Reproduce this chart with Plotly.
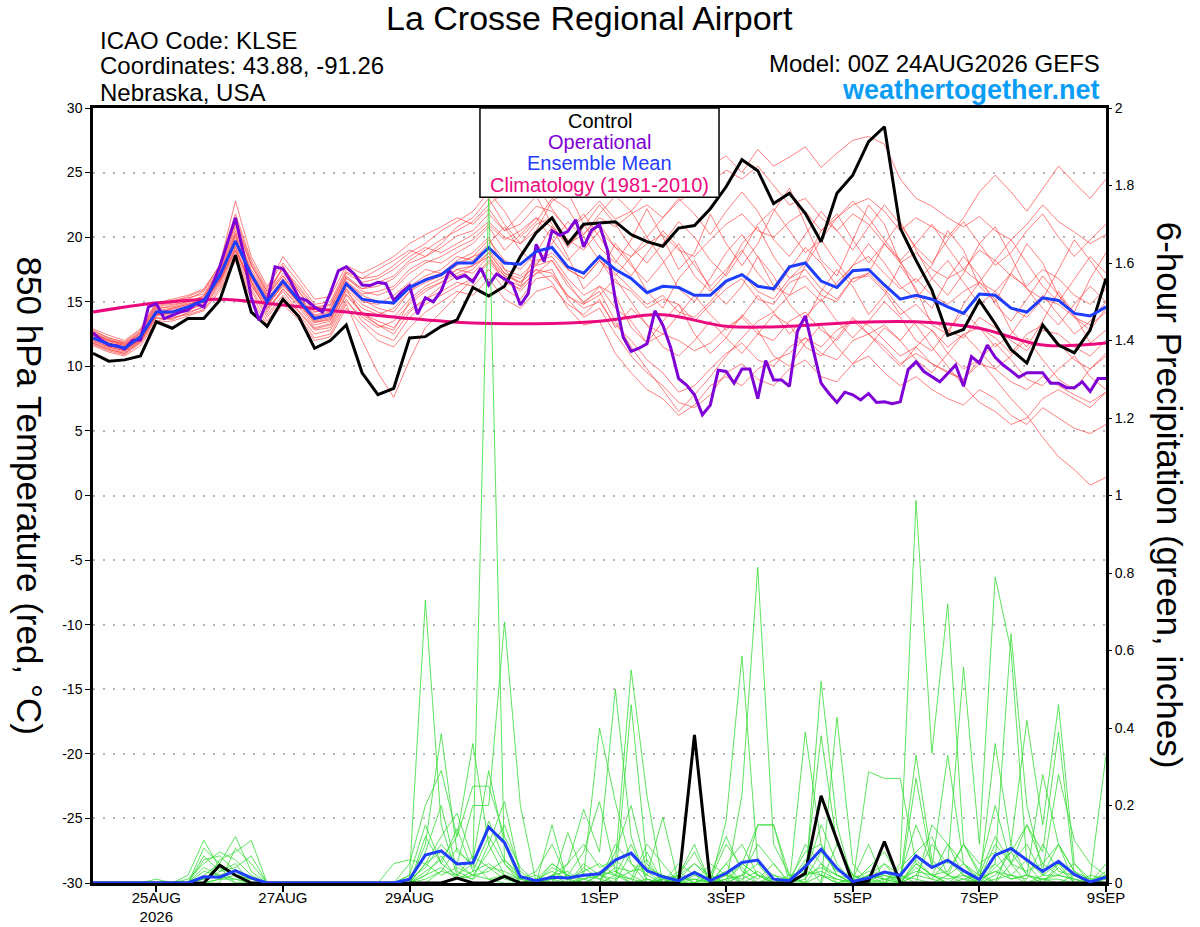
import pandas as pd
import plotly.graph_objects as go

# GEFS run 00Z 24AUG2026, 6-hourly steps (ensemble / control / mean), 3-hourly operational
times_6h = pd.date_range("2026-08-24 00:00", periods=65, freq="6h")
times_3h = pd.date_range("2026-08-24 00:00", periods=129, freq="3h")
clim_days = pd.date_range("2026-08-24", periods=17, freq="D")

tick_dates = ["2026-08-25", "2026-08-27", "2026-08-29", "2026-09-01",
              "2026-09-03", "2026-09-05", "2026-09-07", "2026-09-09"]
tick_labels = ["25AUG<br>2026", "27AUG", "29AUG", "1SEP", "3SEP", "5SEP", "7SEP", "9SEP"]

temp_ticks = [30, 25, 20, 15, 10, 5, 0, -5, -10, -15, -20, -25, -30]
temp_tick_labels = ["30", "25", "20", "15", "10", "5", "0", "-5", "-10", "-15", "-20", "-25", "-30"]
precip_ticks = [0, 0.2, 0.4, 0.6, 0.8, 1.0, 1.2, 1.4, 1.6, 1.8, 2.0]
precip_tick_labels = ["0", "0.2", "0.4", "0.6", "0.8", "1", "1.2", "1.4", "1.6", "1.8", "2"]

# 850 hPa temperature (C)
control_temp = [11.0, 10.4, 10.5, 10.8, 13.45, 12.95, 13.7, 13.7, 15.1, 18.6,
                14.2, 13.1, 15.2, 13.85, 11.4, 12.0, 13.2, 9.5, 7.8, 8.3,
                12.2, 12.3, 13.1, 13.6, 16.1, 15.45, 16.2, 18.5, 20.35, 21.5,
                19.5, 21.0, 21.1, 21.2, 20.2, 19.65, 19.3, 20.7, 20.9, 22.2,
                23.9, 26.0, 25.15, 22.6, 23.4, 21.85, 19.65, 23.4, 24.8, 27.4,
                28.55, 20.7, 18.2, 15.9, 12.4, 12.85, 15.1, 13.3, 11.3, 10.25,
                13.2, 11.65, 11.05, 12.8, 16.8]

mean_temp = [12.2, 11.7, 11.4, 12.3, 14.2, 14.2, 14.6, 15.1, 17.0, 19.7,
             17.1, 15.0, 16.6, 15.1, 13.7, 14.0, 16.4, 15.2, 15.0, 14.9,
             16.1, 16.7, 17.1, 18.0, 18.0, 19.2, 18.0, 17.9, 18.9, 19.2,
             17.7, 17.2, 18.5, 17.5, 16.8, 15.7, 16.2, 16.1, 15.5, 15.5,
             16.6, 17.1, 16.2, 16.0, 17.7, 18.0, 16.6, 16.1, 17.4, 17.5,
             16.3, 15.2, 15.5, 15.2, 14.6, 14.1, 15.6, 15.5, 14.5, 14.2,
             15.3, 15.1, 14.1, 13.9, 14.6]

oper_temp = [12.6, 12.05, 11.65, 11.6, 11.35, 12.0, 12.05, 14.6, 14.85, 13.7,
             13.95, 14.2, 14.35, 14.85, 14.6, 16.1, 17.7, 19.6, 21.5, 18.8,
             15.3, 13.55, 15.0, 17.7, 17.55, 16.55, 15.3, 15.1, 14.6, 14.2,
             15.7, 17.4, 17.7, 17.15, 16.3, 16.25, 16.5, 16.4, 15.1, 15.75,
             16.25, 14.05, 15.3, 15.0, 15.85, 17.4, 16.8, 17.05, 16.55, 17.6,
             16.3, 17.15, 16.8, 16.4, 14.75, 15.65, 19.45, 18.1, 20.5, 20.15,
             20.45, 21.35, 19.25, 20.55, 20.95, 19.0, 15.15, 12.25, 11.15, 11.4,
             11.75, 14.3, 13.2, 11.45, 9.05, 8.55, 7.8, 6.25, 7.0, 9.7,
             9.6, 8.7, 9.8, 9.8, 7.5, 10.45, 8.95, 8.95, 8.45, 12.7,
             13.9, 11.25, 8.7, 7.9, 7.2, 8.0, 7.8, 7.4, 7.9, 7.2,
             7.25, 7.1, 7.25, 9.75, 10.35, 9.6, 9.2, 8.8, 9.45, 10.1,
             8.45, 10.75, 10.25, 11.65, 10.7, 10.1, 9.65, 9.15, 9.5, 9.5,
             9.5, 8.7, 8.7, 8.35, 8.35, 8.8, 8.05, 9.05, 9.05]

clim_temp = [14.2, 14.9, 15.2, 14.75, 14.2, 13.7, 13.35, 13.3, 13.5, 14.0,
             13.1, 13.1, 13.4, 13.45, 12.95, 11.65, 11.8]

temp_members = [
    [12.5, 12.0, 11.8, 12.6, 14.6, 14.8, 15.0, 15.4, 17.5, 21.0, 17.8, 15.6, 17.2, 15.8, 14.2, 14.5, 17.0,
     16.0, 16.2, 16.8, 18.0, 18.5, 19.2, 20.1, 20.5, 21.8, 20.5, 21.0, 22.4, 22.0, 20.6, 21.5, 22.8,
     21.4, 22.0, 23.5, 24.8, 23.2, 24.0, 25.5, 26.3, 25.0, 26.8, 25.5, 26.2, 27.0, 25.4, 26.5, 27.5,
     27.8, 27.2, 24.5, 23.0, 22.4, 21.5, 20.8, 21.6, 20.5, 19.8, 21.0, 22.5, 21.2, 20.4, 19.5, 20.2],
    [11.8, 11.3, 11.0, 11.9, 13.8, 13.6, 14.2, 14.6, 16.4, 19.0, 16.2, 14.5, 15.8, 14.3, 12.9, 13.2, 15.5,
     14.1, 13.5, 13.0, 14.4, 15.2, 15.8, 16.5, 16.2, 17.5, 16.0, 15.2, 16.8, 17.0, 15.4, 14.8, 16.2,
     14.5, 13.5, 11.8, 12.5, 12.0, 11.2, 11.8, 13.0, 13.8, 12.5, 12.0, 13.5, 14.2, 12.8, 12.0, 13.6,
     13.2, 12.0, 10.8, 11.5, 10.2, 9.6, 9.0, 10.5, 9.0, 7.5, 6.2, 4.5, 3.0, 2.0, 0.8, 1.4],
    [12.0, 11.5, 11.2, 12.0, 14.0, 14.5, 14.8, 15.2, 16.8, 20.2, 16.5, 14.2, 16.0, 14.8, 13.2, 13.5, 16.0,
     14.0, 13.2, 12.8, 15.0, 16.0, 16.5, 17.5, 17.2, 18.5, 16.5, 16.0, 17.5, 16.5, 14.5, 13.2, 13.5,
     11.0, 9.5, 8.2, 7.5, 6.2, 7.0, 8.5, 9.2, 8.5, 9.8, 10.5, 11.0, 12.2, 11.5, 12.8, 13.5,
     12.5, 13.2, 12.0, 13.5, 12.8, 11.5, 12.5, 13.0, 12.2, 11.0, 12.5, 13.2, 11.8, 10.5, 9.8, 11.0],
    [12.8, 12.2, 11.9, 12.8, 14.9, 15.2, 15.5, 16.0, 17.8, 22.8, 18.5, 16.2, 18.0, 16.5, 14.8, 15.0, 17.5,
     16.8, 17.5, 18.2, 19.0, 18.5, 19.5, 20.8, 21.5, 23.0, 21.0, 19.5, 20.5, 22.8, 23.5, 21.0, 19.2,
     18.0, 19.8, 22.2, 20.0, 17.5, 18.8, 21.8, 19.5, 17.8, 19.5, 22.0, 23.8, 21.0, 18.2, 17.0, 19.8,
     22.5, 21.0, 18.0, 16.5, 17.8, 20.5, 19.0, 16.2, 15.0, 17.2, 19.5, 18.0, 15.5, 14.2, 16.8, 18.8],
    [12.3, 11.8, 11.5, 12.4, 14.3, 14.0, 14.5, 15.0, 16.8, 19.5, 16.8, 14.8, 16.2, 15.0, 13.5, 13.8, 16.2,
     15.0, 14.8, 15.5, 16.5, 17.5, 17.2, 18.2, 18.8, 20.0, 17.5, 16.2, 18.8, 20.8, 18.5, 16.0, 17.2,
     19.5, 18.0, 15.8, 14.5, 16.8, 18.2, 16.0, 14.8, 16.2, 18.5, 17.0, 14.8, 13.5, 15.8, 17.5, 16.2,
     14.0, 15.5, 17.8, 16.0, 13.2, 12.5, 14.8, 16.5, 15.2, 12.8, 11.5, 13.5, 15.8, 14.0, 11.8, 12.8],
    [11.7, 11.2, 10.9, 11.8, 13.5, 13.8, 14.0, 14.4, 16.0, 18.5, 15.5, 13.5, 15.0, 13.8, 12.2, 12.5, 14.8,
     12.0, 9.5, 7.6, 10.5, 13.0, 14.2, 15.5, 16.8, 18.2, 17.0, 16.5, 18.0, 18.8, 17.5, 16.8, 18.2,
     16.5, 15.8, 14.5, 15.2, 14.8, 13.5, 14.8, 16.0, 16.8, 15.2, 14.8, 16.5, 17.0, 15.5, 15.0, 16.8,
     17.0, 15.8, 14.0, 14.8, 13.5, 12.8, 12.2, 13.8, 13.0, 12.0, 11.2, 12.8, 12.5, 11.5, 10.8, 12.0],
    [12.6, 12.1, 11.7, 12.5, 14.5, 14.6, 14.9, 15.5, 17.2, 20.5, 17.5, 15.5, 17.0, 15.5, 14.0, 14.2, 16.8,
     16.0, 16.5, 17.0, 18.2, 19.0, 19.8, 20.5, 21.2, 22.5, 23.5, 24.8, 24.0, 22.2, 20.5, 21.8, 20.0,
     18.2, 17.0, 18.8, 20.5, 19.2, 17.0, 15.8, 17.2, 19.5, 20.8, 18.5, 16.8, 18.0, 20.5, 21.8, 19.8,
     18.0, 19.5, 21.2, 19.0, 16.8, 15.5, 17.2, 19.5, 20.8, 18.5, 16.0, 15.2, 17.5, 19.8, 18.2, 16.5],
    [11.9, 11.4, 11.1, 12.0, 13.9, 14.2, 14.4, 14.8, 16.5, 19.2, 16.0, 14.0, 15.5, 14.2, 12.8, 13.0, 15.2,
     13.5, 12.5, 12.0, 13.8, 14.8, 15.5, 16.2, 16.8, 18.0, 16.8, 16.2, 17.2, 17.5, 15.2, 13.8, 14.5,
     12.5, 10.8, 9.5, 8.5, 7.2, 6.8, 7.8, 9.5, 10.2, 9.0, 8.5, 9.8, 10.5, 9.2, 8.8, 10.2,
     10.8, 9.5, 8.5, 9.2, 8.2, 7.5, 7.0, 8.2, 7.5, 6.2, 5.5, 6.8, 6.0, 5.2, 4.8, 5.5],
    [12.4, 11.9, 11.6, 12.2, 14.2, 14.4, 14.7, 15.2, 17.0, 20.0, 17.0, 15.2, 16.8, 15.3, 13.8, 14.0, 16.5,
     15.5, 15.0, 14.8, 16.2, 17.0, 17.5, 18.5, 18.2, 19.5, 20.8, 19.0, 17.8, 19.5, 21.2, 20.0, 18.2,
     17.0, 18.5, 20.0, 18.2, 16.0, 15.0, 16.8, 18.8, 20.2, 18.5, 16.2, 15.5, 17.8, 19.8, 18.0, 16.5,
     17.2, 19.5, 18.2, 15.8, 14.5, 16.8, 18.5, 17.0, 14.8, 13.5, 15.2, 17.0, 15.5, 13.8, 12.8, 14.5],
    [12.1, 11.6, 11.3, 12.1, 14.1, 13.9, 14.3, 14.9, 16.6, 19.0, 16.5, 14.6, 16.4, 14.9, 13.4, 13.6, 15.8,
     14.5, 14.0, 14.5, 15.8, 16.5, 17.0, 17.8, 18.5, 19.0, 17.5, 17.0, 18.2, 18.5, 16.8, 15.5, 16.2,
     15.5, 13.0, 11.8, 13.5, 14.8, 12.5, 11.0, 12.2, 14.0, 12.8, 10.8, 10.0, 11.8, 13.2, 11.5, 10.2,
     11.5, 13.0, 12.0, 10.5, 9.5, 11.0, 12.5, 11.2, 9.8, 10.8, 12.2, 10.5, 9.0, 8.2, 9.8, 10.8],
    [12.7, 12.2, 11.8, 12.7, 14.7, 14.9, 15.2, 15.8, 17.6, 21.5, 18.0, 15.8, 17.5, 16.0, 14.5, 14.7, 17.2,
     16.5, 16.8, 17.5, 18.5, 19.2, 18.8, 19.5, 20.2, 21.2, 20.0, 19.5, 21.0, 21.5, 19.8, 19.0, 20.5,
     19.2, 18.5, 19.5, 20.2, 19.0, 18.5, 19.8, 21.0, 21.8, 20.5, 20.0, 21.2, 22.0, 20.5, 21.5, 22.5,
     23.0, 22.0, 20.5, 21.5, 20.8, 20.0, 21.5, 23.5, 24.8, 23.5, 22.0, 23.8, 25.5, 24.2, 23.0, 24.5],
    [11.6, 11.1, 10.8, 11.6, 13.4, 13.5, 13.9, 14.3, 15.8, 18.2, 15.2, 13.2, 14.8, 13.6, 12.0, 12.3, 14.5,
     13.2, 12.0, 11.5, 13.0, 14.2, 15.0, 15.8, 15.5, 16.8, 15.2, 14.5, 15.8, 16.2, 14.8, 14.0, 15.2,
     13.0, 14.5, 13.2, 11.5, 10.8, 12.0, 13.5, 12.2, 11.0, 12.5, 14.0, 13.2, 11.5, 10.8, 12.2, 13.8,
     12.5, 11.2, 10.0, 11.5, 12.8, 11.0, 9.8, 10.5, 11.8, 10.5, 9.0, 8.5, 9.8, 10.8, 9.2, 8.2],
    [12.5, 12.0, 11.7, 12.4, 14.4, 14.7, 15.0, 15.3, 17.3, 20.8, 17.2, 15.3, 17.8, 15.8, 14.2, 14.4, 16.9,
     15.8, 15.5, 16.0, 17.2, 18.0, 18.5, 19.2, 19.8, 21.0, 19.8, 20.5, 21.5, 20.8, 19.5, 20.2, 21.5,
     20.8, 21.8, 22.5, 21.5, 22.8, 23.5, 24.2, 25.2, 24.5, 25.5, 24.0, 22.5, 23.0, 21.5, 20.5, 21.8,
     21.0, 19.5, 18.0, 18.8, 17.5, 16.8, 17.5, 19.0, 18.2, 17.0, 16.2, 17.5, 16.8, 15.5, 14.8, 16.0],
    [12.2, 11.7, 11.4, 12.2, 14.2, 14.3, 14.6, 15.1, 16.9, 19.8, 16.8, 15.0, 16.5, 15.1, 13.6, 13.9, 16.3,
     15.2, 14.5, 14.2, 15.8, 16.8, 17.2, 18.0, 18.5, 19.8, 18.2, 17.5, 18.8, 19.2, 17.5, 16.8, 18.2,
     17.2, 16.0, 14.8, 15.5, 14.2, 13.8, 15.0, 16.5, 17.2, 15.8, 15.2, 16.8, 17.5, 16.0, 15.2, 16.8,
     17.2, 16.0, 14.5, 13.2, 11.5, 10.0, 8.5, 7.2, 6.5, 5.5, 6.0, 7.5, 8.2, 7.5, 6.8, 8.0],
    [12.9, 12.4, 12.0, 12.9, 15.0, 15.0, 15.4, 15.9, 17.8, 21.8, 18.2, 16.0, 18.5, 16.8, 15.2, 15.4, 17.8,
     17.2, 17.8, 18.5, 19.5, 20.2, 20.8, 21.5, 21.0, 22.2, 20.5, 21.8, 23.2, 21.0, 19.2, 20.8, 22.5,
     21.0, 19.2, 18.0, 19.5, 21.2, 20.0, 18.2, 17.0, 18.8, 21.0, 22.2, 20.5, 18.8, 19.8, 21.5, 22.8,
     21.5, 19.8, 18.2, 19.5, 21.0, 19.2, 17.5, 16.5, 18.2, 19.8, 18.0, 16.2, 15.0, 16.8, 18.5, 17.2],
    [12.0, 11.5, 11.2, 12.1, 14.0, 14.1, 14.5, 15.0, 16.7, 19.3, 16.3, 14.4, 16.0, 14.6, 13.0, 13.3, 15.6,
     14.2, 13.2, 12.5, 14.2, 15.2, 16.2, 17.0, 17.5, 18.8, 17.2, 16.8, 17.8, 18.2, 16.2, 15.0, 15.8,
     13.5, 11.5, 9.8, 8.2, 6.5, 7.8, 9.2, 10.8, 12.2, 13.5, 14.2, 15.5, 16.2, 15.0, 16.5, 17.8,
     18.5, 17.2, 16.0, 16.8, 15.5, 14.8, 15.8, 16.5, 15.8, 14.5, 13.8, 15.2, 14.8, 13.8, 13.2, 14.2],
    [12.6, 12.0, 11.6, 12.6, 14.8, 15.1, 15.3, 15.6, 17.5, 21.2, 17.8, 15.8, 17.6, 16.2, 14.6, 14.8, 17.3,
     16.8, 17.0, 17.8, 18.8, 19.5, 20.5, 21.2, 22.0, 23.5, 22.0, 20.0, 21.2, 23.0, 22.2, 20.2, 21.8,
     23.2, 22.0, 20.0, 21.5, 23.0, 21.8, 20.2, 22.0, 23.5, 22.0, 19.8, 18.5, 20.2, 22.0, 20.5, 19.0,
     20.8, 22.5, 21.0, 19.2, 18.0, 19.8, 21.2, 19.5, 17.8, 18.8, 20.5, 21.8, 20.0, 18.5, 19.8, 21.0],
    [11.8, 11.3, 11.0, 11.9, 13.7, 13.7, 14.1, 14.6, 16.2, 18.8, 15.8, 13.8, 15.3, 14.0, 12.5, 12.8, 15.0,
     13.8, 13.0, 13.5, 14.8, 15.8, 16.5, 17.2, 17.8, 18.5, 17.0, 15.8, 17.2, 18.2, 16.5, 14.8, 15.5,
     16.8, 15.0, 13.2, 12.5, 14.0, 15.5, 14.0, 12.8, 13.8, 15.5, 14.2, 12.5, 13.8, 15.2, 13.5, 12.2,
     13.5, 15.0, 13.8, 12.0, 11.2, 12.8, 14.2, 13.0, 11.5, 12.5, 14.2, 15.5, 14.0, 12.5, 13.5, 15.0],
    [12.4, 11.8, 11.5, 12.3, 14.3, 14.5, 14.8, 15.2, 17.1, 20.3, 17.3, 15.4, 17.0, 15.4, 13.9, 14.1, 16.6,
     15.6, 15.8, 16.2, 17.5, 18.2, 18.0, 18.8, 19.5, 20.8, 19.0, 20.2, 21.5, 19.8, 18.2, 19.5, 21.0,
     19.2, 17.8, 16.5, 18.0, 19.5, 17.8, 16.2, 17.5, 19.0, 17.2, 15.8, 17.5, 19.2, 18.0, 16.2, 17.8,
     19.5, 18.0, 16.2, 15.2, 16.8, 18.2, 16.5, 14.8, 15.8, 17.2, 16.0, 14.5, 13.2, 14.8, 16.2, 15.0],
    [12.2, 11.6, 11.3, 12.1, 14.0, 14.2, 14.6, 15.0, 16.6, 19.6, 16.6, 14.7, 16.3, 14.9, 13.4, 13.7, 16.0,
     14.8, 14.2, 13.8, 15.2, 16.2, 16.8, 17.5, 17.8, 18.8, 17.2, 16.5, 17.5, 17.2, 15.5, 14.5, 15.0,
     13.2, 12.0, 10.5, 9.5, 8.0, 8.5, 9.8, 11.0, 11.8, 10.5, 10.0, 11.5, 12.2, 11.0, 10.5, 12.0,
     12.5, 11.5, 10.2, 11.0, 10.2, 9.5, 9.0, 10.2, 9.8, 8.8, 8.2, 9.2, 8.5, 7.8, 7.2, 8.0],
]

# 6-hour precipitation (inches)
control_precip = [0, 0, 0, 0, 0, 0, 0, 0,
                  0.046, 0.02, 0, 0, 0, 0, 0, 0,
                  0, 0, 0, 0, 0, 0, 0, 0.013,
                  0, 0, 0.017, 0, 0, 0, 0, 0,
                  0, 0, 0, 0, 0, 0, 0.382, 0,
                  0, 0, 0, 0, 0, 0.025, 0.225, 0.111,
                  0, 0.005, 0.107, 0, 0, 0, 0, 0,
                  0, 0, 0, 0, 0, 0, 0, 0,
                  0]

mean_precip = [0, 0, 0, 0, 0, 0, 0, 0.016,
               0.015, 0.032, 0.013, 0, 0, 0, 0, 0,
               0, 0, 0, 0, 0.01, 0.072, 0.083, 0.049,
               0.052, 0.144, 0.104, 0.016, 0.006, 0.015, 0.013, 0.02,
               0.024, 0.059, 0.077, 0.032, 0.016, 0.006, 0.027, 0.006,
               0.025, 0.053, 0.059, 0.01, 0.006, 0.042, 0.087, 0.038,
               0.004, 0.013, 0.028, 0.02, 0.07, 0.04, 0.059, 0.032,
               0.009, 0.072, 0.089, 0.059, 0.03, 0.056, 0.022, 0.003,
               0.015]

precip_members = [
    [0, 0, 0, 0, 0, 0, 0.02, 0.11, 0.04, 0, 0, 0, 0, 0, 0, 0, 0, 0, 0, 0, 0.02, 0.73, 0.15, 0.02,
     0.05, 0.01, 0, 0, 0, 0.02, 0.05, 0.19, 0.08, 0.5, 0.12, 0, 0, 0, 0.02, 0, 0, 0.05, 0.02, 0, 0, 0.39, 0.1, 0.02,
     0, 0, 0.03, 0, 0.05, 0.02, 0, 0.03, 0, 0.36, 0.1, 0.02, 0, 0.05, 0.02, 0, 0.03],
    [0, 0, 0, 0, 0, 0, 0, 0.09, 0.05, 0.12, 0.03, 0, 0, 0, 0, 0, 0, 0, 0, 0, 0, 0.10, 0.385, 0.08,
     0.05, 1.78, 0.05, 0, 0, 0.15, 0, 0, 0.02, 0.05, 0.55, 0.225, 0, 0, 0, 0.05, 0.02, 0, 0, 0.01, 0, 0, 0.05, 0,
     0, 0.02, 0, 0.05, 0.987, 0.335, 0.72, 0.1, 0.02, 0, 0.05, 0, 0.02, 0.1, 0.03, 0, 0],
    [0, 0, 0, 0, 0, 0, 0, 0, 0.06, 0.08, 0.11, 0, 0, 0, 0, 0, 0, 0, 0, 0, 0.05, 0.20, 0.29, 0.12,
     0.36, 0.10, 0.02, 0.01, 0, 0, 0.13, 0.02, 0.4, 0.21, 0.05, 0, 0.01, 0, 0.03, 0, 0.16, 0.586, 0.05, 0, 0, 0.02, 0.38, 0.1,
     0.02, 0, 0, 0, 0.27, 0.04, 0.33, 0.05, 0, 0.05, 0.643, 0.2, 0.03, 0.28, 0.11, 0.05, 0.02],
    [0, 0, 0, 0, 0, 0, 0, 0.07, 0.03, 0.05, 0, 0, 0, 0, 0, 0, 0, 0, 0, 0.05, 0.06, 0.05, 0.08, 0.05,
     0.2, 0.2, 0.674, 0.2, 0, 0, 0, 0.05, 0.02, 0, 0.46, 0.05, 0, 0, 0, 0.02, 0, 0.227, 0.815, 0.1, 0.02, 0, 0, 0.428,
     0.05, 0, 0, 0, 0.02, 0.1, 0.05, 0.557, 0.1, 0.79, 0.6, 0.05, 0, 0.04, 0, 0, 0],
    [0, 0, 0, 0, 0, 0, 0.01, 0.05, 0.08, 0.06, 0.02, 0, 0, 0, 0, 0, 0, 0, 0, 0, 0, 0.05, 0.12, 0.18,
     0.06, 0.29, 0.10, 0, 0, 0.02, 0.03, 0, 0, 0.1, 0.05, 0.02, 0.17, 0, 0, 0, 0.05, 0, 0.15, 0.15, 0.02, 0, 0.52, 0.15,
     0, 0.287, 0.27, 0.27, 0.05, 0.02, 0, 0, 0.03, 0, 0.1, 0.42, 0.15, 0.46, 0.05, 0, 0.05],
    [0, 0, 0, 0, 0, 0, 0, 0, 0, 0.09, 0.05, 0, 0, 0, 0, 0, 0, 0, 0, 0, 0, 0.08, 0.20, 0.03,
     0.01, 0.10, 0.21, 0.02, 0, 0.05, 0.02, 0.08, 0.21, 0.03, 0, 0.08, 0, 0.02, 0.1, 0, 0.05, 0.1, 0.02, 0, 0, 0.1, 0.05, 0.02,
     0.01, 0.1, 0, 0.04, 0.08, 0.12, 0.02, 0, 0.01, 0.1, 0.05, 0.15, 0.08, 0.39, 0.02, 0, 0],
    [0, 0, 0, 0, 0, 0, 0, 0.04, 0.02, 0, 0, 0, 0, 0, 0, 0, 0, 0, 0, 0, 0.02, 0.15, 0.05, 0.14,
     0.03, 0.12, 0.05, 0.01, 0.03, 0.1, 0.01, 0.03, 0.05, 0.02, 0.1, 0.01, 0, 0.05, 0.02, 0.01, 0.1, 0.04, 0, 0.02, 0.01, 0.08, 0.1, 0.02,
     0, 0.02, 0.05, 0, 0.05, 0.02, 0.1, 0.05, 0.02, 0.12, 0.05, 0.03, 0.05, 0.1, 0.03, 0.01, 0.33],
    [0, 0, 0, 0, 0, 0, 0, 0, 0.03, 0.04, 0.07, 0, 0, 0, 0, 0, 0, 0, 0, 0, 0, 0.03, 0.06, 0.12,
     0.25, 0.25, 0.12, 0.04, 0, 0.04, 0.02, 0, 0, 0.08, 0.2, 0.03, 0, 0.02, 0.08, 0, 0.02, 0.05, 0.15, 0.15, 0, 0.05, 0, 0.1,
     0.02, 0, 0.05, 0.02, 0, 0.15, 0.1, 0.02, 0, 0.04, 0.08, 0.02, 0.28, 0.1, 0, 0.02, 0.01],
    [0, 0, 0, 0, 0.01, 0, 0, 0.02, 0.05, 0.02, 0, 0, 0, 0, 0, 0, 0, 0, 0, 0, 0.01, 0.04, 0.10, 0.05,
     0.02, 0.08, 0.15, 0.03, 0, 0.02, 0, 0.04, 0.01, 0, 0.08, 0.02, 0, 0.03, 0, 0.02, 0, 0.02, 0.1, 0.05, 0, 0.02, 0.15, 0.05,
     0, 0.04, 0.08, 0.01, 0.33, 0.06, 0.02, 0.05, 0.01, 0.03, 0.02, 0.06, 0.02, 0.02, 0.05, 0.01, 0],
    [0, 0, 0, 0, 0, 0, 0, 0.06, 0.07, 0.03, 0, 0, 0, 0, 0, 0, 0, 0, 0, 0, 0, 0.12, 0.05, 0.02,
     0.07, 0.04, 0.01, 0, 0.01, 0.05, 0.02, 0.01, 0.03, 0.02, 0.01, 0.1, 0.05, 0, 0.01, 0, 0.01, 0.05, 0.02, 0, 0.02, 0.03, 0.02, 0.01,
     0, 0.02, 0.01, 0, 0.06, 0.02, 0.03, 0.1, 0.03, 0.2, 0.05, 0.1, 0.02, 0.05, 0, 0, 0.02],
    [0, 0, 0, 0, 0, 0, 0, 0.01, 0.02, 0.01, 0, 0, 0, 0, 0, 0, 0, 0, 0, 0, 0, 0, 0.03, 0.09,
     0.04, 0.16, 0.06, 0.01, 0.02, 0, 0.05, 0.1, 0.04, 0.06, 0.02, 0, 0.02, 0.01, 0.05, 0.02, 0.12, 0.03, 0.01, 0.05, 0, 0.01, 0.08, 0.03,
     0.02, 0.01, 0, 0.02, 0.15, 0.05, 0.02, 0.1, 0.05, 0.08, 0.02, 0.01, 0.1, 0.03, 0.02, 0, 0.01],
    [0, 0, 0, 0, 0, 0, 0, 0, 0.01, 0.02, 0.01, 0, 0, 0, 0, 0, 0, 0, 0, 0, 0, 0.02, 0.07, 0.01,
     0.03, 0.05, 0.02, 0, 0.01, 0.03, 0.01, 0.02, 0.01, 0.04, 0.03, 0.06, 0, 0.02, 0.05, 0.01, 0, 0.02, 0.05, 0.02, 0, 0.06, 0.02, 0,
     0.01, 0.03, 0.02, 0, 0.04, 0.01, 0.06, 0.02, 0, 0.02, 0.08, 0.15, 0.05, 0.02, 0.01, 0, 0],
    [0, 0, 0, 0, 0, 0, 0, 0.03, 0.02, 0.03, 0.01, 0, 0, 0, 0, 0, 0, 0, 0, 0, 0, 0.01, 0.03, 0.02,
     0.01, 0.04, 0.03, 0.01, 0, 0.01, 0.02, 0.01, 0.02, 0.01, 0.03, 0.04, 0.02, 0, 0.03, 0.01, 0.02, 0.01, 0.03, 0, 0.01, 0.02, 0.04, 0.02,
     0, 0.01, 0.02, 0.01, 0.03, 0.02, 0.01, 0.02, 0.01, 0.03, 0.01, 0.02, 0.01, 0.02, 0.01, 0, 0],
    [0, 0, 0, 0, 0, 0, 0, 0.01, 0.04, 0.02, 0.01, 0, 0, 0, 0, 0, 0, 0, 0, 0, 0, 0.05, 0.02, 0.04,
     0.02, 0.03, 0.06, 0.02, 0, 0.02, 0.01, 0, 0.02, 0.03, 0.01, 0, 0.01, 0.02, 0, 0.01, 0.03, 0, 0.02, 0.01, 0, 0.02, 0.03, 0.01,
     0, 0.02, 0.01, 0.02, 0.01, 0, 0.02, 0.01, 0.02, 0.05, 0.01, 0.02, 0.01, 0, 0.02, 0.01, 0.02],
    [0, 0, 0, 0, 0, 0, 0, 0, 0.01, 0.01, 0, 0, 0, 0, 0, 0, 0, 0, 0, 0, 0, 0.02, 0.04, 0.01,
     0.02, 0.01, 0.02, 0, 0, 0.01, 0, 0.01, 0, 0.02, 0, 0.01, 0, 0.01, 0.01, 0, 0.01, 0.02, 0, 0, 0.01, 0, 0.02, 0,
     0.01, 0, 0.01, 0, 0.02, 0.01, 0, 0.01, 0, 0.01, 0.02, 0, 0.01, 0.01, 0, 0, 0],
]

FONT = "Liberation Sans, Arial, Helvetica, sans-serif"

fig = go.Figure()

for m in temp_members:
    fig.add_trace(go.Scatter(x=times_6h, y=m, mode="lines",
                             line=dict(color="rgba(255,55,55,0.8)", width=0.8),
                             hoverinfo="skip"))

fig.add_trace(go.Scatter(x=clim_days, y=clim_temp, mode="lines",
                         line=dict(color="#eb0a7d", width=3, shape="spline")))
fig.add_trace(go.Scatter(x=times_6h, y=control_temp, mode="lines",
                         line=dict(color="black", width=3)))
fig.add_trace(go.Scatter(x=times_3h, y=oper_temp, mode="lines",
                         line=dict(color="#7f00d6", width=3)))
fig.add_trace(go.Scatter(x=times_6h, y=mean_temp, mode="lines",
                         line=dict(color="#1f3dff", width=3)))

for m in precip_members:
    fig.add_trace(go.Scatter(x=times_6h, y=m, mode="lines", yaxis="y2",
                             line=dict(color="#33dd33", width=0.8),
                             hoverinfo="skip"))

fig.add_trace(go.Scatter(x=times_6h, y=control_precip, mode="lines", yaxis="y2",
                         line=dict(color="black", width=3)))
fig.add_trace(go.Scatter(x=times_6h, y=mean_precip, mode="lines", yaxis="y2",
                         line=dict(color="#1f3dff", width=3)))

# legend box in the top of the plot
fig.add_shape(type="rect", xref="paper", yref="paper", x0=0.382, x1=0.618, y0=0.885, y1=1.0,
              fillcolor="white", line=dict(color="black", width=1.5), layer="above")

legend_items = [("Control", "black", 0.983), ("Operational", "#7f00d6", 0.956),
                ("Ensemble Mean", "#1f3dff", 0.929), ("Climatology (1981-2010)", "#eb0a7d", 0.901)]
for txt, col, yy in legend_items:
    fig.add_annotation(text=txt, xref="paper", yref="paper", x=0.5, y=yy,
                       xanchor="center", yanchor="middle", showarrow=False,
                       font=dict(size=20, color=col, family=FONT))

header = [
    ("La Crosse Regional Airport", 0.4906, 1.116, "center", 34, "black"),
    ("ICAO Code: KLSE", 0.005, 1.0877, "left", 24, "black"),
    ("Coordinates: 43.88, -91.26", 0.005, 1.0542, "left", 24, "black"),
    ("Nebraska, USA", 0.005, 1.0194, "left", 24, "black"),
    ("Model: 00Z 24AUG2026 GEFS", 0.9961, 1.0575, "right", 24, "black"),
    ("<b>weathertogether.net</b>", 0.9961, 1.0235, "right", 27, "#0a9df5"),
]
for txt, xx, yy, anchor, size, col in header:
    fig.add_annotation(text=txt, xref="paper", yref="paper", x=xx, y=yy, xanchor=anchor,
                       yanchor="middle", showarrow=False,
                       font=dict(size=size, color=col, family=FONT))

# axis titles, both read top-to-bottom
fig.add_annotation(text="850 hPa Temperature (red, °C)", xref="paper", yref="paper",
                   x=-0.0622, y=0.5, xanchor="center", yanchor="middle",
                   textangle=90, showarrow=False,
                   font=dict(size=35, color="black", family=FONT))
fig.add_annotation(text="6-hour Precipitation (green, inches)", xref="paper", yref="paper",
                   x=1.063, y=0.5, xanchor="center", yanchor="middle",
                   textangle=90, showarrow=False,
                   font=dict(size=35, color="black", family=FONT))

fig.update_layout(
    width=1200, height=927, autosize=False,
    margin=dict(l=93, r=94, t=108, b=44),
    paper_bgcolor="white", plot_bgcolor="white",
    showlegend=False,
    font=dict(family=FONT, color="black"),
    xaxis=dict(type="date", range=[times_6h[0], times_6h[-1]], automargin=False,
               tickvals=tick_dates, ticktext=tick_labels,
               ticks="outside", ticklen=6, tickwidth=1.5, tickcolor="black",
               tickfont=dict(size=15), ticklabelstandoff=-7,
               showline=True, mirror=True, linewidth=2.5, linecolor="black",
               showgrid=False, zeroline=False),
    yaxis=dict(range=[-30, 30], automargin=False,
               tickvals=temp_ticks, ticktext=temp_tick_labels,
               ticks="outside", ticklen=5, tickwidth=1.2, tickcolor="black",
               tickfont=dict(size=14),
               showgrid=True, gridcolor="#b4b4b4", griddash="2px,8px", gridwidth=1.5,
               showline=True, mirror=True, linewidth=2.5, linecolor="black",
               zeroline=False),
    yaxis2=dict(range=[0, 2], overlaying="y", side="right", automargin=False,
                tickvals=precip_ticks, ticktext=precip_tick_labels,
                ticks="outside", ticklen=5, tickwidth=1.2, tickcolor="black",
                tickfont=dict(size=14),
                showgrid=False, zeroline=False, showline=False),
)

page_css = ("var s=document.documentElement.style;s.margin='0';s.padding='0';"
            "s.overflow='hidden';s.height='927px';"
            "var b=document.body.style;b.margin='0';b.padding='0';"
            "b.overflow='hidden';b.height='927px';")
fig.write_html("out.html", config={"responsive": False, "displayModeBar": False},
               post_script=page_css)
